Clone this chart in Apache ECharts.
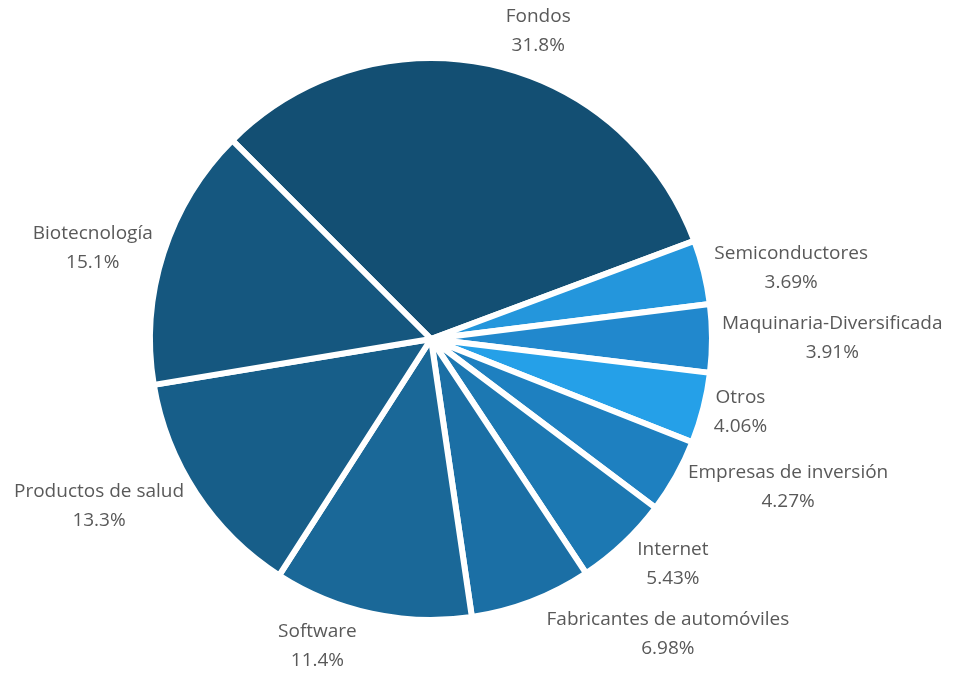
<!DOCTYPE html>
<html>
<head>
<meta charset="utf-8">
<script src="https://cdn.jsdelivr.net/npm/echarts@6/dist/echarts.min.js"></script>
<style>
  html, body { margin: 0; padding: 0; background: #ffffff; }
  #chart { width: 954px; height: 675px; }
</style>
</head>
<body>
<div id="chart"></div>
<script>
// Sectors, listed clockwise starting from the upper-left edge of "Fondos"
const categories = [
  'Fondos', 'Semiconductores', 'Maquinaria-Diversificada', 'Otros',
  'Empresas de inversión', 'Internet', 'Fabricantes de automóviles',
  'Software', 'Productos de salud', 'Biotecnología'
];
const shares = [31.8, 3.69, 3.91, 4.06, 4.27, 5.43, 6.98, 11.4, 13.3, 15.1];
const sliceColors = [
  '#134f73', '#2496dc', '#2188cd', '#25a0e8', '#1e80c0',
  '#1c78b2', '#1b6fa5', '#1a6898', '#175e89', '#15577f'
];

const CX = 431, CY = 339, R = 278, GAP = 6, START = 135;

// mid-angle (degrees, counter-clockwise from 3 o'clock) of each slice
const total = shares.reduce((a, b) => a + b, 0);
const midAngles = [];
let acc = START;
shares.forEach(v => {
  const span = v / total * 360;
  midAngles.push(acc - span / 2);
  acc -= span;
});

const chart = echarts.init(document.getElementById('chart'), null, { renderer: 'canvas' });

chart.setOption({
  animation: false,
  backgroundColor: '#ffffff',
  series: [{
    type: 'pie',
    center: [CX, CY],
    radius: [0, R + GAP / 2],
    startAngle: START,
    clockwise: true,
    avoidLabelOverlap: false,
    itemStyle: { borderColor: '#ffffff', borderWidth: GAP },
    emphasis: { disabled: true },
    label: {
      show: true,
      position: 'outside',
      formatter: p => '{t|' + p.name + '}\n{t|' + p.value.toPrecision(3) + '%}',
      rich: {
        t: {
          fontFamily: 'Open Sans',
          fontSize: 19,
          lineHeight: 29,
          color: '#595959',
          align: 'center'
        }
      }
    },
    labelLine: { show: false },
    // place each label just outside the rim, on the side its slice points to
    labelLayout: function (params) {
      const i = params.dataIndex;
      const a = midAngles[i] * Math.PI / 180;
      const c = Math.cos(a), s = Math.sin(a);
      const r0 = R + 10;
      const px = CX + r0 * c, py = CY - r0 * s;
      const w = params.labelRect.width;
      const hx = 3 + 11 * s * s;
      const x = c >= 0 ? px + hx + w / 2 : px - hx - w / 2;
      const y = py - Math.sign(s) * 26 * Math.min(1, 1.15 * s * s);
      return { x: x, y: y, align: 'center', verticalAlign: 'middle' };
    },
    data: categories.map((name, i) => ({
      name: name,
      value: shares[i],
      itemStyle: { color: sliceColors[i] }
    }))
  }]
});
</script>
</body>
</html>
